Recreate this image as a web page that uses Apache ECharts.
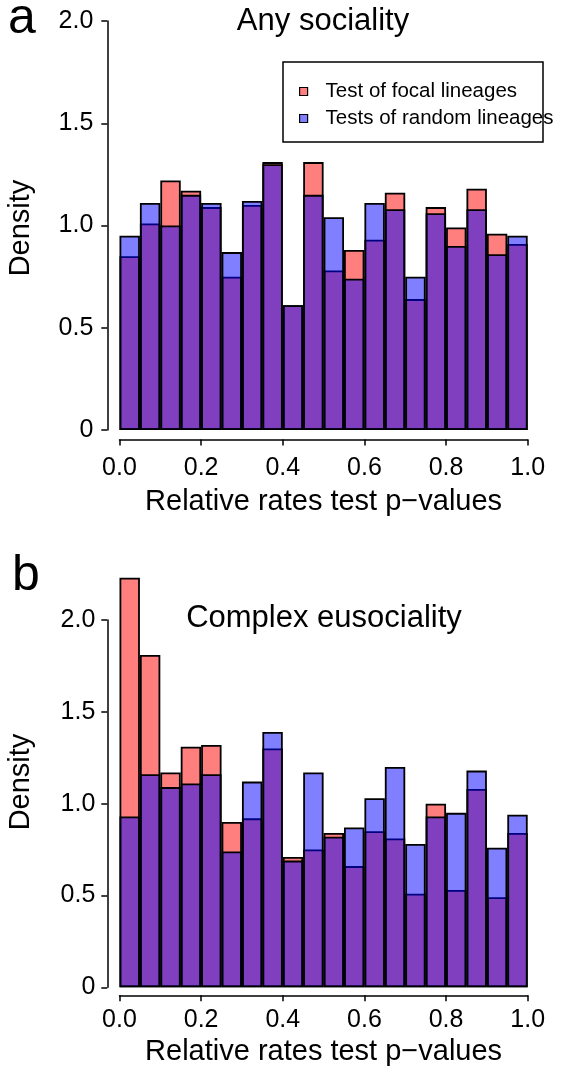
<!DOCTYPE html>
<html><head><meta charset="utf-8">
<script src="https://cdn.jsdelivr.net/npm/echarts@6/dist/echarts.min.js"></script>
<style>html,body{margin:0;padding:0;background:#fff}#c{width:571px;height:1072px}</style>
</head><body><div id="c"></div>
<script>
// ---- data ----
const binStarts = [0,0.05,0.10,0.15,0.20,0.25,0.30,0.35,0.40,0.45,0.50,0.55,0.60,0.65,0.70,0.75,0.80,0.85,0.90,0.95];
const binWidth = 0.05;
const focalA  = [0.85,1.01,1.22,1.17,1.09,0.75,1.10,1.31,0.61,1.31,0.78,0.88,0.93,1.16,0.64,1.09,0.99,1.18,0.96,0.91];
const randomA = [0.95,1.11,1.00,1.15,1.11,0.87,1.12,1.30,0.61,1.15,1.04,0.74,1.11,1.08,0.75,1.06,0.90,1.08,0.86,0.95];
const focalB  = [2.23,1.81,1.17,1.31,1.32,0.90,0.92,1.30,0.71,0.75,0.84,0.66,0.85,0.81,0.51,1.00,0.53,1.08,0.49,0.84];
const randomB = [0.93,1.16,1.09,1.11,1.16,0.74,1.12,1.39,0.69,1.17,0.82,0.87,1.03,1.20,0.78,0.93,0.95,1.18,0.76,0.94];
const seriesNames = ['Test of focal lineages','Tests of random lineages'];
const panelTitles = ['Any sociality','Complex eusociality'];
const panelLetters = ['a','b'];
const xTitle = 'Relative rates test p\u2212values';
const yTitle = 'Density';

// ---- chart ----
const FONT = 'Liberation Sans, Arial, Helvetica, sans-serif';
const RED = 'rgba(255,0,0,0.5)', BLUE = 'rgba(0,0,255,0.5)';
const toPts = vals => binStarts.map((s,i)=>[s+binWidth/2, vals[i]]);

function xAx(g, offset, labMargin, nameGap){
  return {gridIndex:g, type:'value', min:0, max:1, interval:0.2, offset:offset,
    axisLine:{show:true, onZero:false, lineStyle:{color:'#000', width:1.5}},
    axisTick:{show:true, length:6, lineStyle:{color:'#000', width:1.5}},
    axisLabel:{fontSize:25, color:'#000', fontFamily:FONT, margin:labMargin, formatter:v=>v.toFixed(1)},
    splitLine:{show:false},
    name:xTitle, nameLocation:'middle', nameGap:nameGap,
    nameTextStyle:{fontSize:29, color:'#000', fontFamily:FONT}};
}
function yAx(g, offset, labMargin){
  return {gridIndex:g, type:'value', min:0, max:2, interval:0.5, offset:offset,
    axisLine:{show:true, onZero:false, lineStyle:{color:'#000', width:1.5}},
    axisTick:{show:true, length:6, lineStyle:{color:'#000', width:1.5}},
    axisLabel:{fontSize:25, color:'#000', fontFamily:FONT, margin:labMargin, formatter:v=>v===0?'0':v.toFixed(1)},
    splitLine:{show:false}};
}
function bars(name, vals, g, color){
  return {type:'bar', name:name, xAxisIndex:g, yAxisIndex:g, data:toPts(vals),
    barWidth:'100%', barGap:'-100%', clip:false, silent:true,
    itemStyle:{color:color, borderColor:'#000', borderWidth:1.8}};
}

const chart = echarts.init(document.getElementById('c'), null, {renderer:'canvas'});
chart.setOption({
  animation:false,
  textStyle:{fontFamily:FONT},
  grid:[{left:119.5, right:43.3, top:21, height:409},
        {left:119.5, right:43.3, top:620, height:367.3}],
  xAxis:[xAx(0, 9.5, 16, 48), xAx(1, 8, 12, 42)],
  yAxis:[yAx(0, 12.2, 14), yAx(1, 12.2, 12)],
  title:[
    {text:panelLetters[0], left:8, top:-6, padding:0, textStyle:{fontSize:50, fontWeight:'normal', color:'#000', fontFamily:FONT}},
    {text:panelLetters[1], left:12, top:551, padding:0, textStyle:{fontSize:50, fontWeight:'normal', color:'#000', fontFamily:FONT}},
    {text:panelTitles[0], left:323, textAlign:'center', top:6, padding:0, textStyle:{fontSize:31, fontWeight:'normal', color:'#000', fontFamily:FONT}},
    {text:panelTitles[1], left:324, textAlign:'center', top:603, padding:0, textStyle:{fontSize:31, fontWeight:'normal', color:'#000', fontFamily:FONT}}
  ],
  legend:{data:seriesNames, orient:'vertical', left:299, top:81,
    padding:0, itemGap:6, itemWidth:8, itemHeight:8, icon:'rect',
    itemStyle:{borderColor:'#000', borderWidth:1.2},
    textStyle:{fontSize:20.5, color:'#000', fontFamily:FONT, padding:[0,0,0,13]},
    selectedMode:false},
  graphic:[
    {type:'rect', shape:{x:283, y:62, width:260, height:80}, style:{fill:null, stroke:'#000', lineWidth:1.5}, silent:true},
    {type:'text', x:21, y:228, rotation:Math.PI/2, style:{text:yTitle, fontSize:29, fontFamily:FONT, fill:'#000', align:'center', verticalAlign:'middle'}},
    {type:'text', x:21, y:782, rotation:Math.PI/2, style:{text:yTitle, fontSize:29, fontFamily:FONT, fill:'#000', align:'center', verticalAlign:'middle'}}
  ],
  series:[
    bars(seriesNames[0], focalA, 0, RED),
    bars(seriesNames[1], randomA, 0, BLUE),
    bars(seriesNames[0], focalB, 1, RED),
    bars(seriesNames[1], randomB, 1, BLUE)
  ]
});
</script></body></html>
